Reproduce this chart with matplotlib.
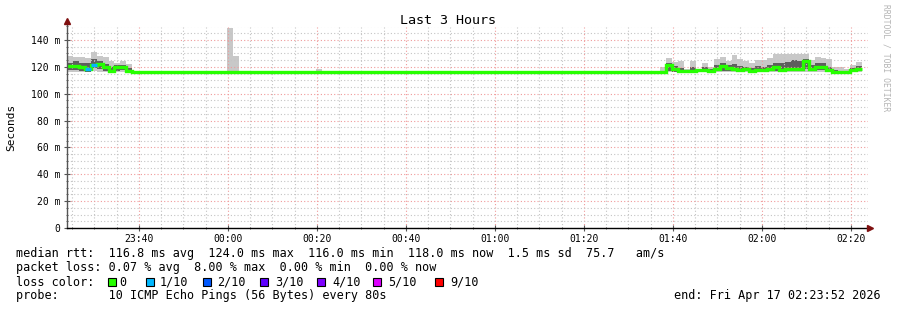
import numpy as np
import matplotlib
matplotlib.use('Agg')
import matplotlib.pyplot as plt
import matplotlib.dates as mdates
from matplotlib.ticker import MultipleLocator, FuncFormatter
from matplotlib.patches import Rectangle
from datetime import datetime, timedelta

plt.rcParams['font.family'] = 'DejaVu Sans Mono'

# --- data (ms), one value per 80 s step ---
start = datetime(2026, 4, 16, 23, 23, 52)
n_steps = 134
base_ms = 116.0

# first busy block, steps 0..10
b1_max = [128, 127, 127, 126.5, 131, 128, 127, 124, 123, 124, 122]
b1_q3 = [123, 124, 123, 123, 126, 124, 122, 120, 121, 121, 119]
b1_med = [120.6, 120.8, 120.0, 118.0, 121.7, 122.0, 119.5, 117.0, 119.5, 119.5, 117.0]
b1_q1 = [117.5, 117.5, 117, 116.5, 119, 118, 117, 116.5, 117, 117.5, 116.5]
b1_min = [116, 116, 116, 116, 117, 116, 116, 115.5, 116, 116, 116]
b1_loss = [0, 0, 0, 1, 1, 0, 0, 0, 0, 0, 0]

# lone outliers in the quiet part
spike_steps = [27, 28, 42]
spike_max = [149, 128, 118.5]

# second busy block, steps 100..133
b2_max = [119.5, 126.3, 123.5, 124.3, 118.4, 124, 118.4, 122.6, 119.5, 125.8,
          127.3, 124.3, 128.8, 125.8, 124.3, 122.6, 125, 125, 126.3, 129.3,
          129.3, 129.3, 129.3, 129.3, 129.8, 125, 127.6, 126.9, 125.8, 119.5,
          119.5, 118.4, 121.4, 123.5]
b2_q3 = [116.5, 123, 120.5, 119, 117.5, 119.5, 118, 119.5, 118, 121.5,
         123, 121, 122, 120.5, 120, 119, 120.5, 120, 121, 123,
         122.5, 123.5, 125, 124.5, 126, 121, 123, 122.5, 120, 117.5,
         117, 117, 119, 120.5]
b2_med = [116, 121, 118.5, 117, 117, 117, 117.6, 117.4, 117.2, 118,
          120.3, 119, 118.4, 117.6, 118, 117, 117.6, 117.6, 118, 119.9,
          117.6, 118.4, 118.4, 118.4, 124, 118.4, 120, 120, 117.6, 116.5,
          115.8, 116.5, 117.4, 118.4]
b2_q1 = [116, 117, 116.5, 116.5, 116, 116.5, 116.5, 116.5, 116.5, 117,
         117, 117, 117, 116.5, 117, 116.5, 116.5, 117, 117, 117,
         117, 117.5, 117.5, 118, 118.5, 117, 117.5, 117.5, 116.5, 116,
         115.8, 116, 116.5, 117]
b2_min = [116, 116.5, 116, 116, 116, 116, 116, 116, 116, 116,
          116, 116, 116, 116, 116, 116, 116, 116, 116, 116,
          116, 116, 116, 116, 116, 116, 116, 116, 116, 115.5,
          115.5, 115.5, 116, 116]
b2_start = 100

loss_labels = ['0', '1/10', '2/10', '3/10', '4/10', '5/10', '9/10']
loss_colors = ['#26ff00', '#00b8ff', '#0059ff', '#5e00ff', '#7e00ff', '#dd00ff', '#ff0000']

legend_rtt = 'median rtt:  116.8 ms avg  124.0 ms max  116.0 ms min  118.0 ms now  1.5 ms sd  75.7   am/s'
legend_loss = 'packet loss: 0.07 % avg  8.00 % max  0.00 % min  0.00 % now'
legend_probe = 'probe:       10 ICMP Echo Pings (56 Bytes) every 80s'
legend_end = 'end: Fri Apr 17 02:23:52 2026'

# assemble per-step arrays
med = np.full(n_steps, base_ms)
s_max = np.full(n_steps, base_ms)
s_min = np.full(n_steps, base_ms)
q1 = np.full(n_steps, base_ms)
q3 = np.full(n_steps, base_ms)
loss = np.zeros(n_steps, dtype=int)

med[:11], s_max[:11], s_min[:11] = b1_med, b1_max, b1_min
q1[:11], q3[:11], loss[:11] = b1_q1, b1_q3, b1_loss
s_max[spike_steps] = spike_max
sl = slice(b2_start, b2_start + len(b2_med))
med[sl], s_max[sl], s_min[sl], q1[sl], q3[sl] = b2_med, b2_max, b2_min, b2_q1, b2_q3

edges = mdates.date2num([start + timedelta(seconds=80 * k) for k in range(n_steps + 1)])
step_w = 80 / 86400

# --- figure ---
W, H = 897, 310
fig = plt.figure(figsize=(W / 100, H / 100), dpi=100)
fig.patch.set_facecolor('white')

def fx(x):
    return x / W

def fy(y):
    return 1 - y / H

ax = fig.add_axes([fx(67), fy(228), (868 - 67) / W, (228 - 26.5) / H])

ax.bar(edges[:-1], s_max - s_min, bottom=s_min, width=step_w, align='edge',
       color='#c8c8c8', linewidth=0, zorder=1)
ax.bar(edges[:-1], q3 - q1, bottom=q1, width=step_w, align='edge',
       color='#5e5e5e', linewidth=0, zorder=1.5)
ax.stairs(med, edges, color=loss_colors[0], lw=2.4, baseline=None, zorder=3)
for k in np.where(loss > 0)[0]:
    ax.hlines(med[k], edges[k], edges[k + 1], color=loss_colors[loss[k]], lw=2.4, zorder=4)

ax.set_xlim(mdates.date2num(start), mdates.date2num(start + timedelta(hours=3)))
ax.set_ylim(0, 150)

ax.xaxis.set_major_locator(mdates.MinuteLocator(byminute=[0, 20, 40]))
ax.xaxis.set_minor_locator(mdates.MinuteLocator(byminute=range(0, 60, 5)))
ax.xaxis.set_major_formatter(mdates.DateFormatter('%H:%M'))
ax.yaxis.set_major_locator(MultipleLocator(20))
ax.yaxis.set_minor_locator(MultipleLocator(5))
ax.yaxis.set_major_formatter(FuncFormatter(lambda v, p: '0' if v == 0 else f'{v:.0f} m'))

ax.set_axisbelow(False)
ax.grid(which='minor', color='#c4c4c4', lw=0.8, linestyle=(0, (1, 2)))
ax.grid(which='major', color='#f09a9a', lw=0.8, linestyle=(0, (1, 2)))

for s in ax.spines.values():
    s.set_visible(False)
ax.tick_params(which='major', length=4, width=0.8, color='#555555', direction='inout', labelsize=7)
ax.tick_params(which='minor', length=2, width=0.6, color='#555555', direction='inout')
ax.tick_params(axis='y', pad=3)
ax.tick_params(axis='x', pad=2.5)

# axes with arrows
ax.plot([0, 0], [0, 1.025], transform=ax.transAxes, color='#555555', lw=1, clip_on=False, zorder=5)
ax.plot([0, 1.003], [0, 0], transform=ax.transAxes, color='black', lw=1, clip_on=False, zorder=5)
ax.plot([0], [1.025], transform=ax.transAxes, marker='^', ms=4, color='#7f1010', clip_on=False, zorder=6)
ax.plot([1.003], [0], transform=ax.transAxes, marker='>', ms=4, color='#7f1010', clip_on=False, zorder=6)

# texts
fig.text(fx(448), fy(20), 'Last 3 Hours', ha='center', va='center', size=9.6)
fig.text(fx(11), fy(127), 'Seconds', rotation=90, ha='center', va='center', size=8)
fig.text(fx(886), fy(4), 'RRDTOOL / TOBI OETIKER', rotation=270, ha='center', va='top',
         size=5.8, color='#b4b4b4')

fs = 8.5
fig.text(fx(16), fy(254), legend_rtt, va='center', size=fs)
fig.text(fx(16), fy(268), legend_loss, va='center', size=fs)
fig.text(fx(16), fy(282), 'loss color:', va='center', size=fs)
fig.text(fx(16), fy(296), legend_probe, va='center', size=fs)
fig.text(fx(881), fy(296), legend_end, ha='right', va='center', size=fs)

box_x = [108, 146, 203, 260, 317, 373, 435]
label_x = [119, 160, 217, 275, 332, 388, 450]
for bx, lx, lab, col in zip(box_x, label_x, loss_labels, loss_colors):
    fig.add_artist(Rectangle((fx(bx), fy(286)), 8 / W, 8 / H, transform=fig.transFigure,
                             facecolor=col, edgecolor='black', lw=0.8))
    fig.text(fx(lx), fy(282), lab, va='center', size=fs)

fig.savefig('out.png', dpi=100, facecolor='white')
